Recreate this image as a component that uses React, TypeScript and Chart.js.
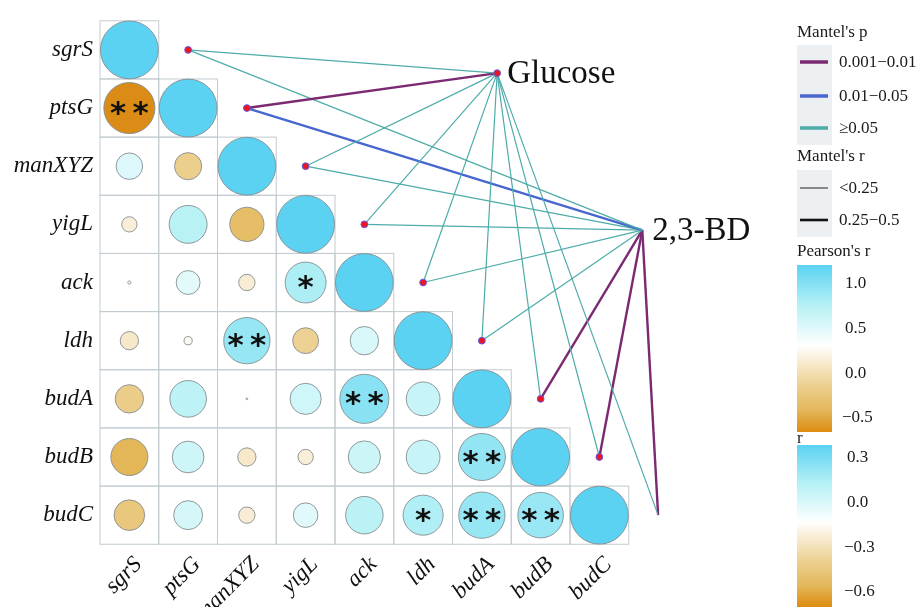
import React, { useEffect, useRef } from 'react';
import { Chart, registerables } from 'chart.js';

Chart.register(...registerables);

const genes = ['sgrS', 'ptsG', 'manXYZ', 'yigL', 'ack', 'ldh', 'budA', 'budB', 'budC'];

// Pearson's r between genes, lower triangle: row i holds columns 0..i
const pearsonRows: number[][] = [
  [1],
  [-0.78, 1],
  [0.21, -0.22, 1],
  [-0.07, 0.43, -0.35, 1],
  [0.003, 0.17, -0.08, 0.5, 1],
  [-0.1, -0.02, 0.64, -0.2, 0.24, 1],
  [-0.24, 0.4, 0.001, 0.29, 0.72, 0.34, 1],
  [-0.41, 0.3, -0.1, -0.07, 0.31, 0.34, 0.66, 1],
  [-0.28, 0.25, -0.08, 0.18, 0.42, 0.48, 0.64, 0.62, 1],
];

// significance marks for the same cells
const signifRows: string[][] = [
  [''],
  ['**', ''],
  ['', '', ''],
  ['', '', '', ''],
  ['', '', '', '*', ''],
  ['', '', '**', '', '', ''],
  ['', '', '', '', '**', '', ''],
  ['', '', '', '', '', '', '**', ''],
  ['', '', '', '', '', '*', '**', '**', ''],
];

const envNames = ['Glucose', '2,3-BD'];

// Mantel test classes per gene (p class, r class) for each environment variable
const pLevels = ['0.001\u22120.01', '0.01\u22120.05', '\u22650.05'];
const rLevels = ['<0.25', '0.25\u22120.5'];
const mantelPGlucose = ['\u22650.05', '0.001\u22120.01', '\u22650.05', '\u22650.05', '\u22650.05', '\u22650.05', '\u22650.05', '\u22650.05', '\u22650.05'];
const mantelRGlucose = ['<0.25', '0.25\u22120.5', '<0.25', '<0.25', '<0.25', '<0.25', '<0.25', '<0.25', '<0.25'];
const mantelPBD = ['\u22650.05', '0.01\u22120.05', '\u22650.05', '\u22650.05', '\u22650.05', '\u22650.05', '0.001\u22120.01', '0.001\u22120.01', '0.001\u22120.01'];
const mantelRBD = ['<0.25', '0.25\u22120.5', '<0.25', '<0.25', '<0.25', '<0.25', '0.25\u22120.5', '0.25\u22120.5', '0.25\u22120.5'];

const pearsonLegendTicks = [1.0, 0.5, 0.0, -0.5];
const rLegendTicks = [0.3, 0.0, -0.3, -0.6];

// ---- styling / layout ----
const SERIF = '"Liberation Serif", "Times New Roman", serif';
const pColors: Record<string, string> = {
  [pLevels[0]]: '#7B2A72',
  [pLevels[1]]: '#4767CF',
  [pLevels[2]]: '#4DACA9',
};
const rWidths: Record<string, number> = { [rLevels[0]]: 1.2, [rLevels[1]]: 2.4 };
const rLegendColors: Record<string, string> = { [rLevels[0]]: '#707070', [rLevels[1]]: '#111111' };
const rLegendWidths: Record<string, number> = { [rLevels[0]]: 1.6, [rLevels[1]]: 2.6 };

// anchor points of the environment nodes, in grid units
const envAnchors = [
  { x: 6.26, y: 0.4 },
  { x: 8.73, y: 3.1 },
];

const fillStops: [number, string][] = [
  [-0.8, '#D98A12'],
  [-0.4, '#E3B75A'],
  [-0.2, '#EDD193'],
  [0, '#FFFFFF'],
  [0.45, '#B5F1F5'],
  [1, '#5BD2F2'],
];

function hexToRgb(h: string): number[] {
  const n = parseInt(h.slice(1), 16);
  return [(n >> 16) & 255, (n >> 8) & 255, n & 255];
}

function fillFor(v: number): string {
  const val = Math.max(fillStops[0][0], Math.min(fillStops[fillStops.length - 1][0], v));
  for (let k = 0; k < fillStops.length - 1; k++) {
    const [a, ca] = fillStops[k];
    const [b, cb] = fillStops[k + 1];
    if (val >= a && val <= b) {
      const t = (val - a) / (b - a);
      const A = hexToRgb(ca);
      const B = hexToRgb(cb);
      const c = A.map((x, i) => Math.round(x + (B[i] - x) * t));
      return `rgb(${c[0]},${c[1]},${c[2]})`;
    }
  }
  return '#FFFFFF';
}

type Cell = { x: number; y: number; v: number; sig: string };

const cells: Cell[] = [];
pearsonRows.forEach((row, i) =>
  row.forEach((v, j) => cells.push({ x: j, y: i, v, sig: signifRows[i][j] }))
);

const geneNodes = genes.map((_, i) => ({ x: i + 1, y: i }));

function linkSets(pClasses: string[], rClasses: string[], env: number) {
  return genes.map((g, i) => ({
    label: `${g}-${envNames[env]}`,
    data: [geneNodes[i], envAnchors[env]],
    showLine: true,
    borderColor: pColors[pClasses[i]],
    borderWidth: rWidths[rClasses[i]],
    pointRadius: 0,
    clip: false as const,
    order: 2,
  }));
}

const halfCell = (chart: any) => {
  const sx = chart.scales.x;
  return Math.abs(sx.getPixelForValue(1) - sx.getPixelForValue(0)) / 2;
};

const gridPlugin = {
  id: 'triGrid',
  beforeDatasetsDraw(chart: any) {
    const { ctx, scales } = chart;
    ctx.save();
    ctx.strokeStyle = '#C2CBD0';
    ctx.lineWidth = 1;
    pearsonRows.forEach((row, i) =>
      row.forEach((_, j) => {
        const x0 = scales.x.getPixelForValue(j - 0.5);
        const x1 = scales.x.getPixelForValue(j + 0.5);
        const y0 = scales.y.getPixelForValue(i - 0.5);
        const y1 = scales.y.getPixelForValue(i + 0.5);
        ctx.strokeRect(x0, y0, x1 - x0, y1 - y0);
      })
    );
    ctx.restore();
  },
};

const markPlugin = {
  id: 'marks',
  afterDatasetsDraw(chart: any) {
    const { ctx, scales } = chart;
    ctx.save();
    ctx.fillStyle = '#111111';
    ctx.font = 'bold 31px "DejaVu Sans", sans-serif';
    ctx.textAlign = 'center';
    ctx.textBaseline = 'alphabetic';
    const m = ctx.measureText('*');
    const yOff = (m.actualBoundingBoxAscent - m.actualBoundingBoxDescent) / 2;
    const gap = 22.6;
    cells.forEach((c) => {
      if (!c.sig) return;
      const cx = scales.x.getPixelForValue(c.x);
      const cy = scales.y.getPixelForValue(c.y);
      const n = c.sig.length;
      for (let k = 0; k < n; k++) {
        const px = cx + (k - (n - 1) / 2) * gap;
        ctx.fillText('*', px, cy + yOff);
      }
    });
    // environment labels
    ctx.fillStyle = '#111111';
    ctx.font = `33px ${SERIF}`;
    ctx.textAlign = 'left';
    envAnchors.forEach((a, k) => {
      const px = scales.x.getPixelForValue(a.x);
      const py = scales.y.getPixelForValue(a.y);
      ctx.fillText(envNames[k], px + 10, py + 10);
    });
    ctx.restore();
  },
};

const legendPlugin = {
  id: 'sideLegend',
  afterDraw(chart: any) {
    const ctx = chart.ctx as CanvasRenderingContext2D;
    const lx = 797;
    const kw = 35;
    ctx.save();
    ctx.font = `17px ${SERIF}`;
    ctx.fillStyle = '#1a1a1a';
    ctx.textAlign = 'left';
    ctx.textBaseline = 'alphabetic';

    // Mantel's p
    ctx.fillText("Mantel's p", lx, 37);
    ctx.fillStyle = '#EDF0F2';
    ctx.fillRect(lx, 45, kw, 100);
    const pY = [62, 96, 128];
    pLevels.forEach((lab, k) => {
      ctx.strokeStyle = pColors[lab];
      ctx.lineWidth = 3.5;
      ctx.beginPath();
      ctx.moveTo(lx + 3, pY[k]);
      ctx.lineTo(lx + 31, pY[k]);
      ctx.stroke();
      ctx.fillStyle = '#1a1a1a';
      ctx.textBaseline = 'middle';
      ctx.fillText(lab, 839, pY[k] + 1);
      ctx.textBaseline = 'alphabetic';
    });

    // Mantel's r
    ctx.fillStyle = '#1a1a1a';
    ctx.fillText("Mantel's r", lx, 161);
    ctx.fillStyle = '#EDF0F2';
    ctx.fillRect(lx, 170, kw, 67);
    const rY = [188, 220];
    rLevels.forEach((lab, k) => {
      ctx.strokeStyle = rLegendColors[lab];
      ctx.lineWidth = rLegendWidths[lab];
      ctx.beginPath();
      ctx.moveTo(lx + 3, rY[k]);
      ctx.lineTo(lx + 31, rY[k]);
      ctx.stroke();
      ctx.fillStyle = '#1a1a1a';
      ctx.textBaseline = 'middle';
      ctx.fillText(lab, 839, rY[k] + 1);
      ctx.textBaseline = 'alphabetic';
    });

    // Pearson's r colour bar
    ctx.fillStyle = '#1a1a1a';
    ctx.fillText("Pearson's r", lx, 256);
    const drawBar = (top: number, h: number, white: number) => {
      const g = ctx.createLinearGradient(0, top, 0, top + h);
      g.addColorStop(0, '#5BD2F2');
      g.addColorStop(white * 0.5, '#B5F1F5');
      g.addColorStop(white, '#FFFFFF');
      g.addColorStop(white + (1 - white) * 0.45, '#EDD193');
      g.addColorStop(white + (1 - white) * 0.75, '#E3B75A');
      g.addColorStop(1, '#DC8C10');
      ctx.fillStyle = g;
      ctx.fillRect(lx, top, kw, h);
    };
    drawBar(265, 167, 0.48);
    ctx.fillStyle = '#1a1a1a';
    ctx.textBaseline = 'middle';
    pearsonLegendTicks.forEach((v) => {
      const y = 284 + (1.0 - v) * 89.3;
      const s = v < 0 ? '\u2212' + Math.abs(v).toFixed(1) : v.toFixed(1);
      ctx.fillText(s, v < 0 ? 842 : 845, y);
    });

    // r colour bar
    ctx.textBaseline = 'alphabetic';
    ctx.fillText('r', lx, 443);
    drawBar(445, 162, 0.475);
    ctx.fillStyle = '#1a1a1a';
    ctx.textBaseline = 'middle';
    rLegendTicks.forEach((v) => {
      const y = 458 + (0.3 - v) * 148.9;
      const s = v < 0 ? '\u2212' + Math.abs(v).toFixed(1) : v.toFixed(1);
      ctx.fillText(s, v < 0 ? 844 : 847, y);
    });
    ctx.restore();
  },
};

const tickFont = { family: SERIF, style: 'italic' as const, size: 23 };

export default function App() {
  const ref = useRef<HTMLCanvasElement>(null);

  useEffect(() => {
    const canvas = ref.current;
    if (!canvas) return;

    const cellSet = {
      label: 'pearson',
      data: cells,
      pointRadius: (c: any) => {
        const raw = c.raw as Cell;
        if (!raw) return 0;
        return halfCell(c.chart) * 0.985 * Math.sqrt(Math.abs(raw.v));
      },
      backgroundColor: (c: any) => (c.raw ? fillFor((c.raw as Cell).v) : '#fff'),
      borderColor: '#848D91',
      borderWidth: 0.9,
      clip: false as const,
      order: 3,
    };

    const nodeSet = {
      label: 'nodes',
      data: [...geneNodes, ...envAnchors],
      pointRadius: 3.4,
      backgroundColor: '#F01420',
      borderColor: '#5C5CE6',
      borderWidth: 1,
      clip: false as const,
      order: 1,
    };

    const chart = new Chart(canvas, {
      type: 'scatter',
      data: {
        datasets: [
          ...linkSets(mantelPGlucose, mantelRGlucose, 0),
          ...linkSets(mantelPBD, mantelRBD, 1),
          nodeSet,
          cellSet,
        ] as any,
      },
      options: {
        responsive: false,
        animation: false,
        devicePixelRatio: 1,
        events: [],
        layout: { padding: { left: 0, top: 15.5, right: 292.25, bottom: 0 } },
        plugins: { legend: { display: false }, tooltip: { enabled: false } },
        scales: {
          x: {
            type: 'linear',
            min: -0.5,
            max: 8.5,
            grid: { display: false, drawTicks: false },
            border: { display: false },
            afterBuildTicks: (s: any) => {
              s.ticks = genes.map((_, i) => ({ value: i }));
            },
            afterFit: (s: any) => {
              s.height = 62.75;
            },
            ticks: {
              autoSkip: false,
              minRotation: 45,
              maxRotation: 45,
              padding: 7,
              labelOffset: 9,
              font: tickFont,
              color: '#111111',
              callback: (v: any) => genes[v as number] ?? '',
            },
          },
          y: {
            type: 'linear',
            reverse: true,
            min: -0.5,
            max: 8.5,
            grid: { display: false, drawTicks: false },
            border: { display: false },
            afterBuildTicks: (s: any) => {
              s.ticks = genes.map((_, i) => ({ value: i }));
            },
            afterFit: (s: any) => {
              s.width = 100;
            },
            ticks: {
              autoSkip: false,
              padding: 7,
              font: tickFont,
              color: '#111111',
              callback: (v: any) => genes[v as number] ?? '',
            },
          },
        },
      } as any,
      plugins: [gridPlugin, markPlugin, legendPlugin],
    });

    return () => chart.destroy();
  }, []);

  return (
    <div style={{ position: 'fixed', left: 0, top: 0, width: 921, height: 607, background: '#ffffff' }}>
      <canvas ref={ref} width={921} height={607} style={{ display: 'block' }} />
    </div>
  );
}
